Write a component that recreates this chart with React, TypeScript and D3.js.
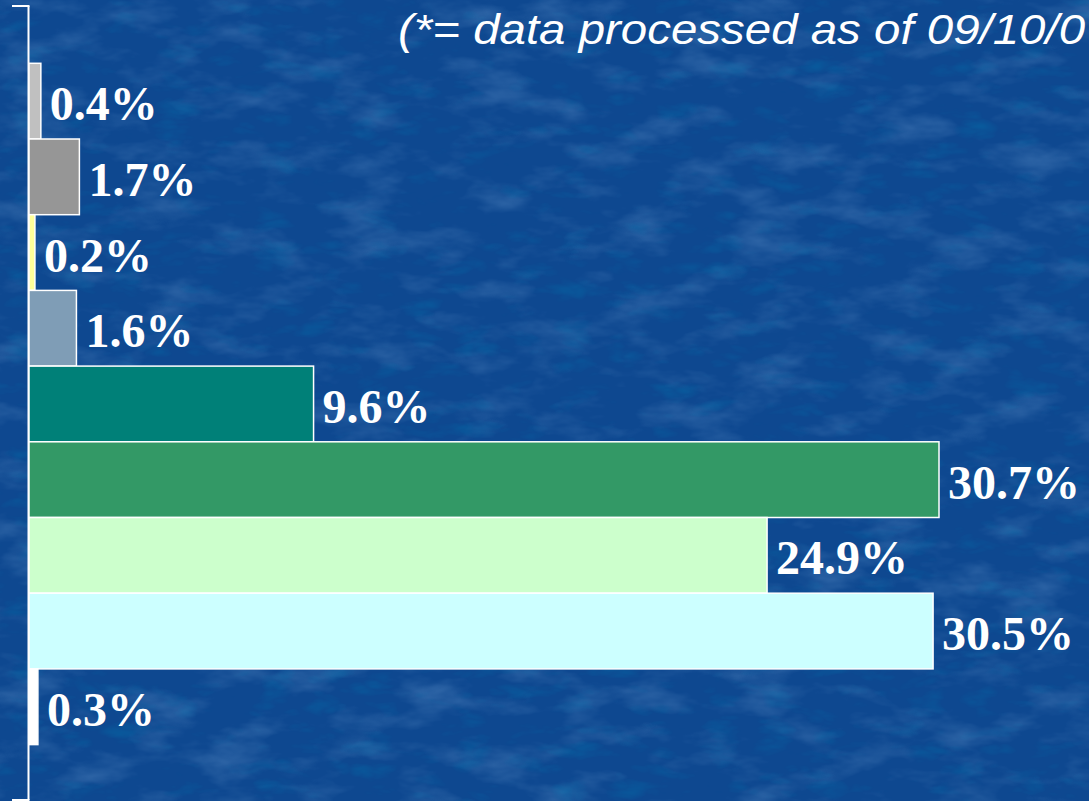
import React from "react";
import * as d3 from "d3";

const categories = ["c1", "c2", "c3", "c4", "c5", "c6", "c7", "c8", "c9"];
const values = [0.4, 1.7, 0.2, 1.6, 9.6, 30.7, 24.9, 30.5, 0.3];
const labels = ["0.4%", "1.7%", "0.2%", "1.6%", "9.6%", "30.7%", "24.9%", "30.5%", "0.3%"];
const colors = ["#c0c0c0", "#969696", "#ffff99", "#7f9db6", "#008078", "#339966", "#ccffcc", "#ccffff", "#ffffff"];
const title = "(*= data processed as of 09/10/0";

const W = 1089;
const H = 801;

export default function App() {
  const x = d3.scaleLinear().domain([0, 30.7]).range([29, 939]);
  const y = d3.scaleBand<string>().domain(categories).range([63.3, 744.6]).padding(0);
  const bw = y.bandwidth();

  return (
    <svg
      width={W}
      height={H}
      style={{ position: "fixed", left: 0, top: 0, display: "block" }}
    >
      <defs>
        <filter id="tex" x="0" y="0" width="100%" height="100%">
          <feTurbulence type="fractalNoise" baseFrequency="0.015 0.035" numOctaves={4} seed={7} result="n" />
          <feColorMatrix
            in="n"
            type="matrix"
            values="0 0 0 0 0.25  0 0 0 0 0.47  0 0 0 0 0.78  2.0 0 0 0 -0.95"
          />
        </filter>
        <filter id="tex2" x="0" y="0" width="100%" height="100%">
          <feTurbulence type="turbulence" baseFrequency="0.02 0.05" numOctaves={3} seed={3} result="n" />
          <feColorMatrix
            in="n"
            type="matrix"
            values="0 0 0 0 0.0  0 0 0 0 0.2  0 0 0 0 0.45  0 0 0 1.6 -0.55"
          />
        </filter>
      </defs>
      <rect x={0} y={0} width={W} height={H} fill="#0e4890" />
      <rect x={0} y={0} width={W} height={H} filter="url(#tex)" opacity={0.3} />
      <rect x={0} y={0} width={W} height={H} filter="url(#tex2)" opacity={0.35} />

      <text
        transform="translate(398,44) scale(1.13,1)"
        x={0}
        y={0}
        fill="#ffffff"
        fontFamily="'Liberation Sans', Arial, sans-serif"
        fontStyle="italic"
        fontSize={42}
      >
        {title}
      </text>

      {/* axis */}
      <g stroke="#ffffff" strokeWidth={2} fill="none">
        <line x1={28.5} x2={28.5} y1={6} y2={800} />
        <line x1={12} x2={29.5} y1={6} y2={6} />
        <line x1={12} x2={29.5} y1={800} y2={800} />
      </g>

      {categories.map((c, i) => {
        const y0 = y(c) as number;
        const x0 = x(0);
        const x1 = x(values[i]);
        return (
          <g key={c}>
            <rect
              x={x0}
              y={y0}
              width={x1 - x0}
              height={bw}
              fill={colors[i]}
              stroke="#ffffff"
              strokeWidth={1.5}
            />
            <text
              x={x1 + 9}
              y={y0 + bw / 2 + 19}
              fill="#ffffff"
              fontFamily="'Liberation Serif', 'Times New Roman', serif"
              fontWeight="bold"
              fontSize={48}
            >
              {labels[i]}
            </text>
          </g>
        );
      })}
    </svg>
  );
}
